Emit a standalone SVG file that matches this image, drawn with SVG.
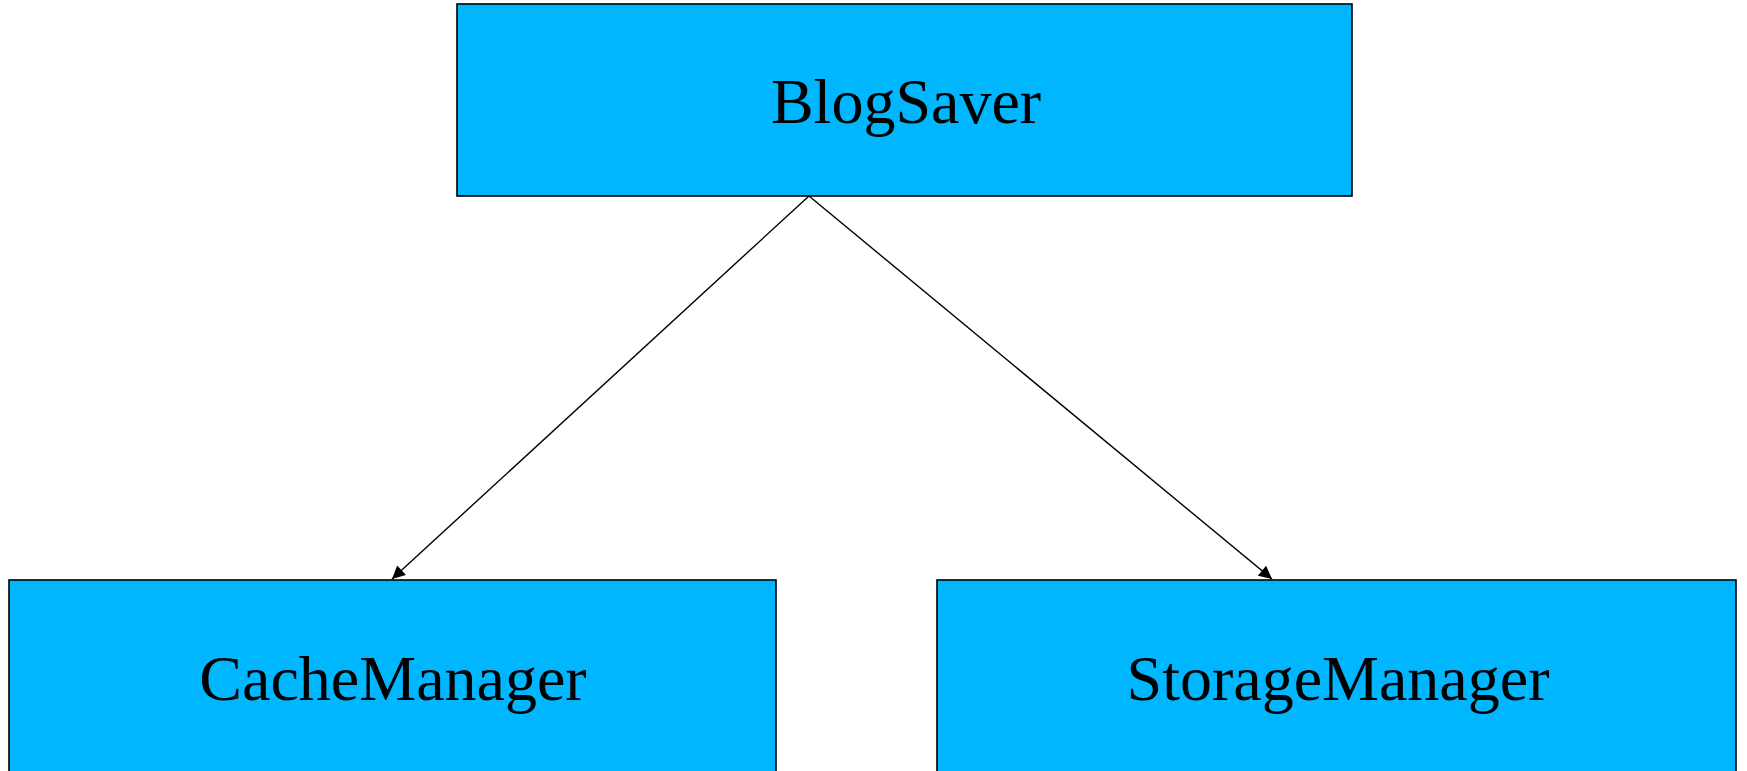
<svg xmlns="http://www.w3.org/2000/svg" width="1747" height="771" viewBox="0 0 1747 771">
  <style>
    .box { fill: #00b7ff; stroke: #000; stroke-width: 1.6; }
    .label { font-family: "Liberation Serif", "Times New Roman", serif; font-size: 64px; fill: #000; text-anchor: middle; }
    .edge { stroke: #000; stroke-width: 1.4; fill: none; marker-end: url(#arrow); }
  </style>
  <defs>
    <marker id="arrow" viewBox="0 0 10 10" refX="10" refY="5" markerWidth="14" markerHeight="13" markerUnits="userSpaceOnUse" orient="auto">
      <path d="M0,0 L10,5 L0,10 z" fill="#000"/>
    </marker>
  </defs>
  <rect width="1747" height="771" fill="#fff"/>
  <g id="edges">
    <line class="edge" x1="809" y1="196" x2="392" y2="579"/>
    <line class="edge" x1="809" y1="196" x2="1272" y2="579"/>
  </g>
  <g id="node-blogsaver">
    <rect class="box" x="457" y="4" width="895" height="192"/>
    <text class="label" x="906" y="123">BlogSaver</text>
  </g>
  <g id="node-cachemanager">
    <rect class="box" x="9" y="580" width="767" height="200"/>
    <text class="label" x="393" y="700">CacheManager</text>
  </g>
  <g id="node-storagemanager">
    <rect class="box" x="937" y="580" width="799" height="200"/>
    <text class="label" x="1338" y="700">StorageManager</text>
  </g>
</svg>
